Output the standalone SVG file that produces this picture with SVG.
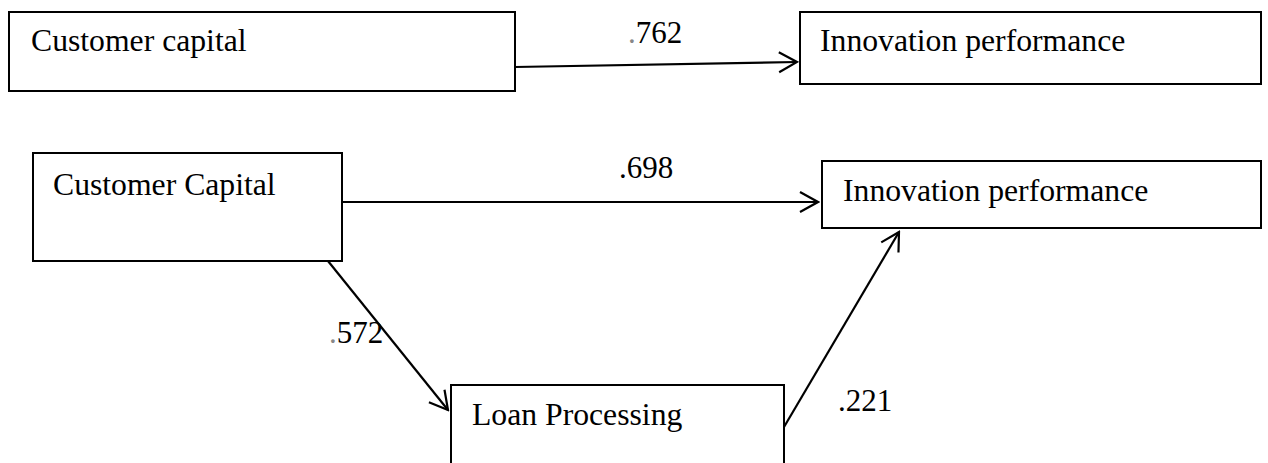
<svg xmlns="http://www.w3.org/2000/svg" width="1268" height="463" viewBox="0 0 1268 463">
  <style>
    .box { fill: #fff; stroke: #000; stroke-width: 2; }
    .label { font-family: "Liberation Serif", "Times New Roman", serif; font-size: 31.7px; fill: #000; }
    .coef { font-family: "Liberation Serif", "Times New Roman", serif; font-size: 31px; fill: #000; }
    .dot { fill: #888; }
    .edge { fill: none; stroke: #000; stroke-width: 2.2; }
  </style>
  <defs>
    <marker id="arrow" viewBox="-20 -12 22 24" refX="0" refY="0" markerWidth="22" markerHeight="24" markerUnits="userSpaceOnUse" orient="auto">
      <path d="M-18,-10 L0,0 L-18,10" fill="none" stroke="#000" stroke-width="2.2"/>
    </marker>
  </defs>

  <!-- direct effect model -->
  <g id="customer-capital-top">
    <rect class="box" x="9" y="12" width="506" height="79"/>
    <text class="label" x="31" y="51">Customer capital</text>
  </g>
  <g id="innovation-performance-top">
    <rect class="box" x="800" y="12" width="461" height="72"/>
    <text class="label" x="820" y="51">Innovation performance</text>
  </g>

  <!-- mediation model -->
  <g id="customer-capital">
    <rect class="box" x="33" y="153" width="309" height="108"/>
    <text class="label" x="53" y="195">Customer Capital</text>
  </g>
  <g id="innovation-performance">
    <rect class="box" x="822" y="161" width="439" height="67"/>
    <text class="label" x="843" y="201">Innovation performance</text>
  </g>
  <g id="loan-processing">
    <rect class="box" x="451" y="385" width="333" height="90"/>
    <text class="label" x="472" y="425">Loan Processing</text>
  </g>

  <g id="connectors">
    <line class="edge" x1="515" y1="67" x2="797" y2="62" marker-end="url(#arrow)"/>
    <line class="edge" x1="342" y1="202" x2="818" y2="202" marker-end="url(#arrow)"/>
    <line class="edge" x1="328" y1="261" x2="448" y2="410" marker-end="url(#arrow)"/>
    <line class="edge" x1="784" y1="427" x2="899" y2="232" marker-end="url(#arrow)"/>
  </g>

  <g id="coefficients">
    <text class="coef" x="628" y="43"><tspan class="dot">.</tspan>762</text>
    <text class="coef" x="619" y="178">.698</text>
    <text class="coef" x="329" y="343"><tspan class="dot">.</tspan>572</text>
    <text class="coef" x="838" y="411">.221</text>
  </g>
</svg>
